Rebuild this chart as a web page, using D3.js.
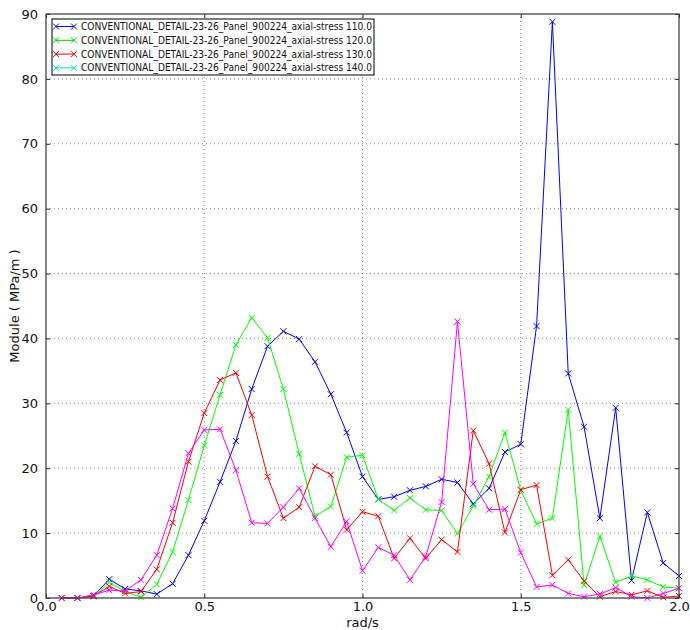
<!DOCTYPE html>
<html>
<head>
<meta charset="utf-8">
<script src="https://cdn.jsdelivr.net/npm/d3@7"></script>
<style>
  body { margin: 0; background: #fff; }
  svg { display: block; font-family: "DejaVu Sans", sans-serif; }
</style>
</head>
<body>
<svg id="chart" width="690" height="630"></svg>
<script>
// x positions (rad/s), one sample every 0.05
const xs = d3.range(1, 41).map(i => +(i * 0.05).toFixed(2));

const stress110 = [0, 0, 0.3, 2.9, 1.4, 1.1, 0.6, 2.2, 6.6, 11.9,
    17.9, 24.2, 32.2, 38.8, 41.1, 39.9, 36.4, 31.4, 25.5, 18.7,
    15.2, 15.6, 16.6, 17.2, 18.3, 17.8, 14.5, 16.9, 22.5, 23.7,
    41.9, 88.8, 34.6, 26.4, 12.3, 29.3, 2.7, 13.2, 5.4, 3.4];
const stress120 = [0, 0, 0.2, 2.4, 1.0, 0.1, 2.1, 7.1, 15.1, 23.5,
    31.3, 39.0, 43.2, 40.1, 32.2, 22.2, 12.6, 14.1, 21.7, 22.0,
    15.2, 13.5, 15.4, 13.6, 13.5, 9.9, 14.2, 18.7, 25.5, 16.6,
    11.4, 12.3, 29.0, 2.0, 9.5, 2.4, 3.4, 2.8, 1.7, 1.5];
const stress130 = [0, 0, 0.3, 1.8, 0.7, 1.0, 4.4, 11.6, 21.0, 28.5,
    33.6, 34.7, 28.2, 18.7, 12.3, 14.0, 20.3, 19.0, 10.5, 13.3,
    12.6, 6.1, 9.2, 6.1, 9.0, 7.1, 25.8, 20.7, 10.1, 16.7,
    17.4, 3.5, 5.9, 2.6, 0.2, 1.0, 0.5, 1.1, 0.1, 0.3];
const stress140 = [0, 0, 0.5, 1.2, 1.1, 2.8, 6.6, 13.8, 22.3, 25.9,
    26.0, 19.7, 11.6, 11.5, 14.0, 16.9, 12.3, 7.9, 11.8, 4.2,
    7.8, 6.6, 2.8, 6.4, 14.8, 42.6, 17.6, 13.6, 13.7, 7.0,
    1.7, 2.0, 0.7, 0.2, 0.6, 1.6, 0.2, 0.0, 0.7, 1.5];

const seriesNames = [
    "CONVENTIONAL_DETAIL-23-26_Panel_900224_axial-stress 110.0",
    "CONVENTIONAL_DETAIL-23-26_Panel_900224_axial-stress 120.0",
    "CONVENTIONAL_DETAIL-23-26_Panel_900224_axial-stress 130.0",
    "CONVENTIONAL_DETAIL-23-26_Panel_900224_axial-stress 140.0"
];
const seriesValues = [stress110, stress120, stress130, stress140];
const lineColors = ["#0000ff", "#00ff00", "#ff0000", "#ff00ff"];
const legendColors = ["#0000ff", "#00cc00", "#ff0000", "#00dddd"];

const xTicks = [0, 0.5, 1.0, 1.5, 2.0];
const yTicks = d3.range(0, 91, 10);

const margin = {top: 14, right: 11, bottom: 32, left: 46};
const width = 690, height = 630;

const svg = d3.select("#chart");

const x = d3.scaleLinear().domain([0, 2]).range([margin.left, width - margin.right]);
const y = d3.scaleLinear().domain([0, 90]).range([height - margin.bottom, margin.top]);

// grid
const grid = svg.append("g")
    .attr("stroke", "#888")
    .attr("stroke-width", 1)
    .attr("stroke-dasharray", "1,3");
grid.selectAll("line.gx")
    .data(xTicks.slice(1, -1))
    .enter().append("line")
    .attr("x1", d => x(d)).attr("x2", d => x(d))
    .attr("y1", y(0)).attr("y2", y(90));
grid.selectAll("line.gy")
    .data(yTicks.slice(1, -1))
    .enter().append("line")
    .attr("x1", x(0)).attr("x2", x(2))
    .attr("y1", d => y(d)).attr("y2", d => y(d));

// series
const line = d3.line().x((d, i) => x(xs[i])).y(d => y(d));

seriesValues.forEach((vals, k) => {
    const g = svg.append("g");
    g.append("path")
        .datum(vals)
        .attr("fill", "none")
        .attr("stroke", lineColors[k])
        .attr("stroke-width", 1)
        .attr("d", line);
    g.selectAll("path.mk")
        .data(vals)
        .enter().append("path")
        .attr("fill", "none")
        .attr("stroke", lineColors[k])
        .attr("stroke-width", 1)
        .attr("d", (d, i) => {
            const cx = x(xs[i]), cy = y(d), s = 3;
            return `M${cx - s},${cy - s}L${cx + s},${cy + s}M${cx - s},${cy + s}L${cx + s},${cy - s}`;
        });
});

// axes with inward ticks on all sides
const bottomAxis = d3.axisBottom(x).tickValues(xTicks).tickFormat(d3.format(".1f"))
    .tickSizeInner(-4).tickSizeOuter(0).tickPadding(6);
const leftAxis = d3.axisLeft(y).tickValues(yTicks).tickFormat(d3.format("d"))
    .tickSizeInner(-4).tickSizeOuter(0).tickPadding(8);

const gx = svg.append("g").attr("transform", `translate(0,${y(0)})`).call(bottomAxis);
const gy = svg.append("g").attr("transform", `translate(${x(0)},0)`).call(leftAxis);
svg.append("g").attr("transform", `translate(0,${y(90)})`)
    .call(d3.axisTop(x).tickValues(xTicks).tickFormat("").tickSizeInner(-4).tickSizeOuter(0));
svg.append("g").attr("transform", `translate(${x(2)},0)`)
    .call(d3.axisRight(y).tickValues(yTicks).tickFormat("").tickSizeInner(-4).tickSizeOuter(0));

svg.selectAll(".domain").remove();
svg.selectAll(".tick line").attr("stroke", "#222");
[gx, gy].forEach(g => g.selectAll("text")
    .attr("font-size", 13)
    .attr("font-family", "DejaVu Sans, sans-serif")
    .attr("fill", "#111"));
gx.selectAll("text").attr("dy", "0.5em");

// frame
svg.append("rect")
    .attr("x", x(0)).attr("y", y(90))
    .attr("width", x(2) - x(0)).attr("height", y(0) - y(90))
    .attr("fill", "none")
    .attr("stroke", "#444")
    .attr("stroke-width", 1.3);

// axis labels
svg.append("text")
    .attr("x", (x(0) + x(2)) / 2).attr("y", 627)
    .attr("text-anchor", "middle")
    .attr("font-size", 13).attr("fill", "#111")
    .text("rad/s");
svg.append("text")
    .attr("transform", `translate(19,${(y(0) + y(90)) / 2}) rotate(-90)`)
    .attr("text-anchor", "middle")
    .attr("font-size", 13).attr("fill", "#111")
    .text("Module ( MPa/m )");

// legend
const legend = svg.append("g").attr("transform", "translate(52,19)");
legend.append("rect")
    .attr("width", 322).attr("height", 56)
    .attr("fill", "#fff")
    .attr("stroke", "#000")
    .attr("stroke-width", 1);
seriesNames.forEach((name, k) => {
    const cy = 7.5 + k * 13.8;
    const row = legend.append("g").attr("transform", `translate(0,${cy})`);
    row.append("line")
        .attr("x1", 4).attr("x2", 22)
        .attr("stroke", legendColors[k]).attr("stroke-width", 1);
    [4, 22].forEach(mx => {
        row.append("path")
            .attr("fill", "none")
            .attr("stroke", legendColors[k])
            .attr("d", `M${mx - 3},-3L${mx + 3},3M${mx - 3},3L${mx + 3},-3`);
    });
    row.append("text")
        .attr("x", 29).attr("dy", "0.35em")
        .attr("font-size", 10)
        .attr("fill", "#111")
        .attr("textLength", 291)
        .attr("lengthAdjust", "spacingAndGlyphs")
        .text(name);
});
</script>
</body>
</html>
